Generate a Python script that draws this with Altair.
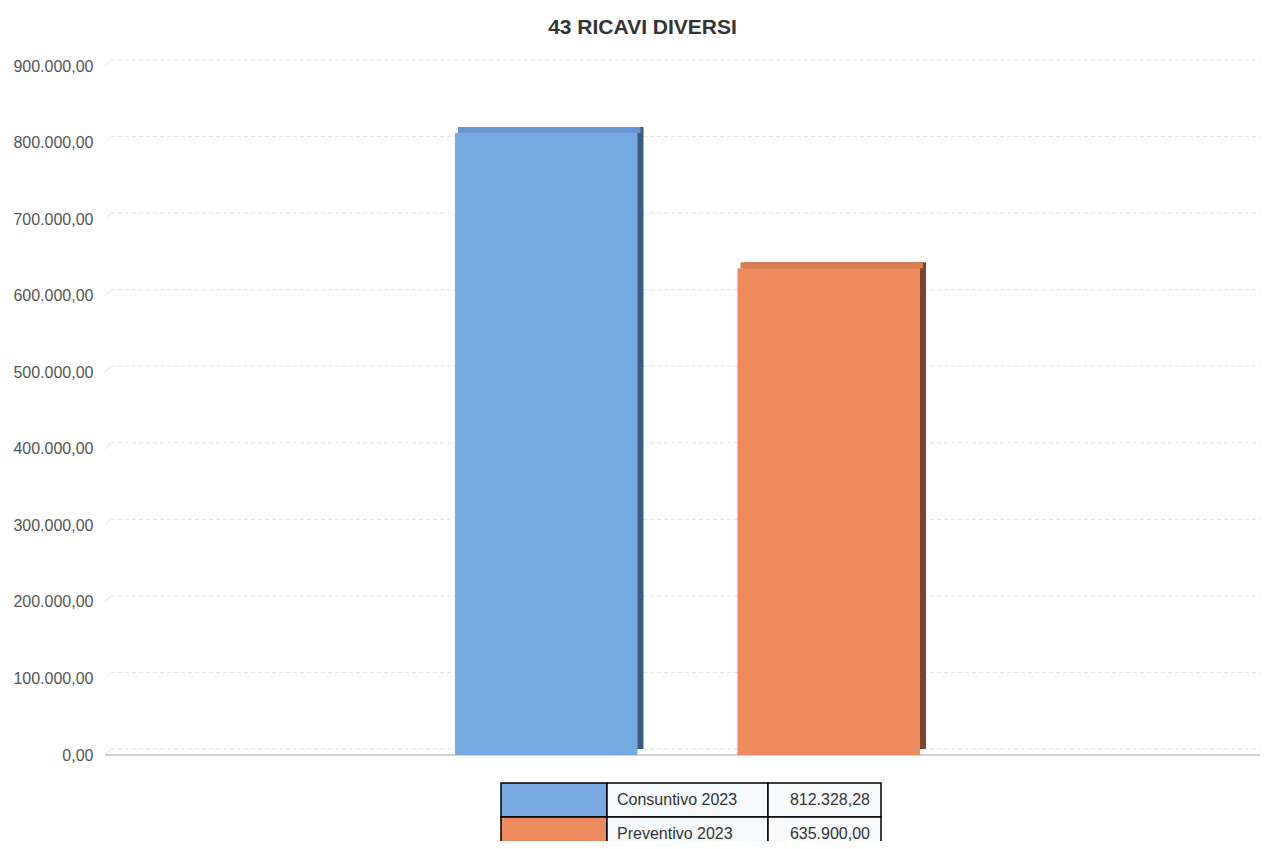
import altair as alt
import pandas as pd

# ---- data ----
chart_title = "43 RICAVI DIVERSI"
series = ["Consuntivo 2023", "Preventivo 2023"]
values = [812328.28, 635900.00]
front_colors = ["#76A9E0", "#EE8B5E"]
top_colors = ["#6697D2", "#DB7B50"]
side_colors = ["#3A5B80", "#7C452B"]
tick_values = [0, 100000, 200000, 300000, 400000, 500000, 600000, 700000, 800000, 900000]

df = pd.DataFrame({"serie": series, "valore": values,
                   "front": front_colors, "top": top_colors, "side": side_colors})
grid_df = pd.DataFrame({"tick": tick_values})
base_df = pd.DataFrame({"tick": tick_values[:1]})

# ---- layout ----
W, H = 1155, 689
DEPTH = 6
FONT = "Liberation Sans"

yscale = alt.Scale(domain=[tick_values[0], tick_values[-1]], nice=False, zero=True)
xscale = alt.Scale(domain=series, range=[350, 815], paddingInner=0.354, paddingOuter=0)
X = alt.X("serie:N", scale=xscale, axis=None)
Yv = alt.Y("valore:Q", scale=yscale, axis=None)

base = alt.Chart(df)

grid = alt.Chart(grid_df).mark_rule(color="#e4e4e4", strokeDash=[4, 3], yOffset=-DEPTH).encode(
    y=alt.Y("tick:Q", scale=yscale,
            axis=alt.Axis(values=tick_values, format=",.2f", grid=False, domain=False, ticks=False,
                          labelPadding=12, labelFontSize=16, labelColor="#555555", labelFont=FONT,
                          title=None)),
    x=alt.value(DEPTH), x2=alt.value(W))

diag = alt.Chart(grid_df).mark_rule(color="#e4e4e4", y2Offset=-DEPTH).encode(
    y=alt.Y("tick:Q", scale=yscale, axis=None), y2="tick:Q",
    x=alt.value(0), x2=alt.value(DEPTH))

baseline = alt.Chart(base_df).mark_rule(color="#d2d2d2", strokeWidth=2).encode(
    y=alt.Y("tick:Q", scale=yscale, axis=None), x=alt.value(0), x2=alt.value(W))

side = base.mark_bar(xOffset=DEPTH, x2Offset=DEPTH, yOffset=-DEPTH, y2Offset=-DEPTH).encode(
    x=X, y=Yv, color=alt.Color("side:N", scale=None))

top = base.mark_bar(xOffset=DEPTH / 2, x2Offset=DEPTH / 2, yOffset=-DEPTH).encode(
    x=X, y=Yv, y2="valore:Q", color=alt.Color("top:N", scale=None))

front = base.mark_bar().encode(x=X, y=Yv, color=alt.Color("front:N", scale=None))

# ---- table (legend) ----
Yt = alt.Y("serie:N", axis=None,
           scale=alt.Scale(domain=series, range=[H + 28, H + 96], paddingInner=0, paddingOuter=0))
c0, c1, c2, c3 = 396, 502, 663, 776

swatch = base.mark_rect(stroke="black", strokeWidth=1.5).encode(
    x=alt.value(c0), x2=alt.value(c1), y=Yt, color=alt.Color("front:N", scale=None))
name_cell = base.mark_rect(fill="#F6F9FC", stroke="black", strokeWidth=1.5).encode(
    x=alt.value(c1), x2=alt.value(c2), y=Yt)
val_cell = base.mark_rect(fill="#F8FAFC", stroke="black", strokeWidth=1.5).encode(
    x=alt.value(c2), x2=alt.value(c3), y=Yt)
name_txt = base.mark_text(align="left", baseline="middle", fontSize=16, color="#333333", font=FONT).encode(
    x=alt.value(c1 + 10), y=Yt, text="serie:N")
val_txt = base.mark_text(align="right", baseline="middle", fontSize=16, color="#333333", font=FONT).encode(
    x=alt.value(c3 - 11), y=Yt, text=alt.Text("valore:Q", format=",.2f"))

chart = alt.layer(
    grid, diag, baseline, side, top, front,
    swatch, name_cell, val_cell, name_txt, val_txt
).resolve_scale(y="independent").properties(
    width=W, height=H,
    title=alt.TitleParams(chart_title, fontSize=21, fontWeight="bold", color="#333333", font=FONT,
                          anchor="middle", dx=-40, offset=20),
    autosize=alt.AutoSizeParams(type="none"),
    padding={"left": 97, "top": 58, "right": 0, "bottom": 86},
).configure(
    locale={"number": {"decimal": ",", "thousands": ".", "grouping": [3], "currency": ["", " €"]}},
    view=alt.ViewConfig(stroke=None),
)

chart.save("out.html", embed_options={"renderer": "svg", "actions": False})
